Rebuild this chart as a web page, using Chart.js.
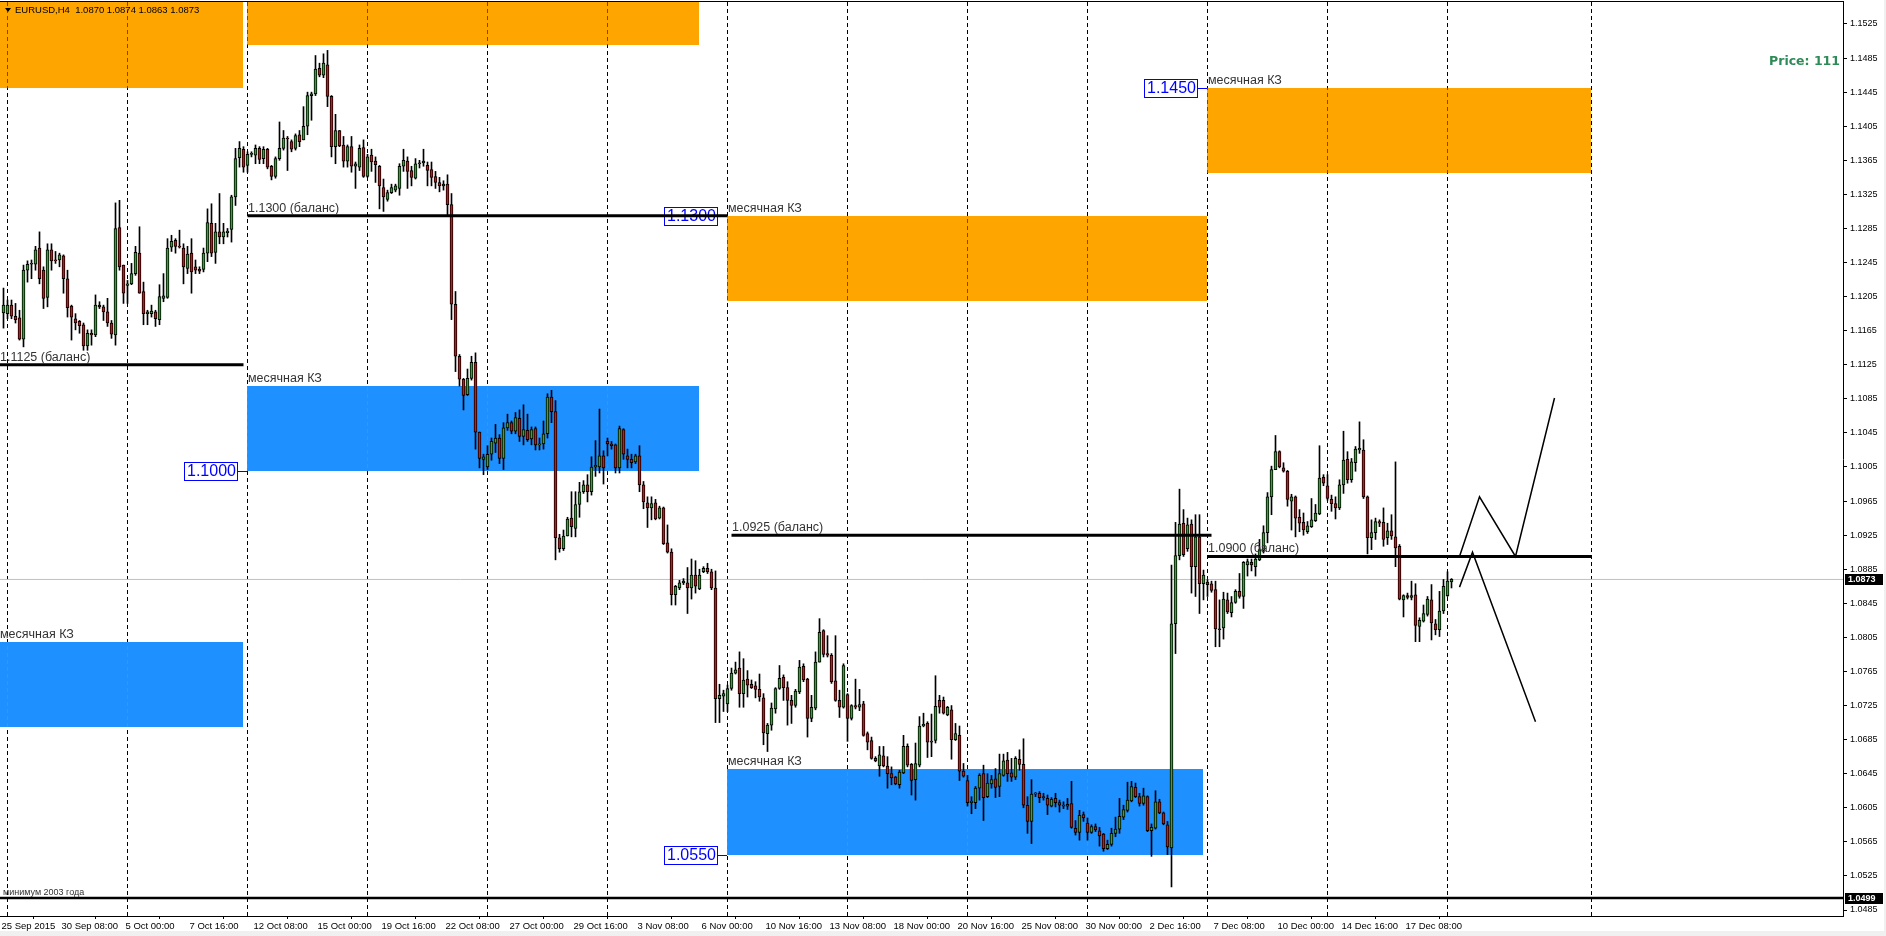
<!DOCTYPE html>
<html>
<head>
<meta charset="utf-8">
<title>EURUSD,H4</title>
<script src="https://cdn.jsdelivr.net/npm/chart.js@4.4.0/dist/chart.umd.min.js"></script>
<style>
  html, body { margin: 0; padding: 0; background: #fff; }
  #wrap { width: 1886px; height: 936px; }
</style>
</head>
<body>
<div id="wrap"><canvas id="chart" width="1886" height="936"></canvas></div>
<script>
// EURUSD H4, 25 Sep 2015 20:00 .. 21 Dec 2015 04:00 (bar 0 .. 362)
const opens = [
  1.1186,1.1185,1.1195,1.1182,1.1180,1.1155,1.1236,1.1243,1.1243,1.1262,
  1.1236,1.1204,1.1260,1.1248,1.1248,1.1253,1.1226,1.1194,1.1179,1.1176,
  1.1172,1.1147,1.1162,1.1160,1.1195,1.1193,1.1187,1.1174,1.1160,1.1286,
  1.1242,1.1218,1.1220,1.1232,1.1256,1.1211,1.1185,1.1185,1.1187,1.1178,
  1.1203,1.1204,1.1263,1.1271,1.1264,1.1262,1.1238,1.1256,1.1240,1.1237,
  1.1237,1.1256,1.1291,1.1257,1.1281,1.1275,1.1280,1.1284,1.1322,1.1368,
  1.1378,1.1359,1.1372,1.1371,1.1379,1.1367,1.1378,1.1358,1.1346,1.1367,
  1.1379,1.1391,1.1387,1.1379,1.1395,1.1389,1.1405,1.1441,1.1443,1.1473,
  1.1465,1.1477,1.1440,1.1381,1.1400,1.1383,1.1364,1.1381,1.1358,1.1357,
  1.1380,1.1346,1.1371,1.1364,1.1358,1.1333,1.1319,1.1327,1.1330,1.1332,
  1.1358,1.1364,1.1353,1.1344,1.1361,1.1362,1.1359,1.1354,1.1346,1.1339,
  1.1335,1.1337,1.1313,1.1196,1.1135,1.1108,1.1090,1.1109,1.1128,1.1046,
  1.1014,1.1005,1.1020,1.1033,1.1039,1.1015,1.1051,1.1057,1.1047,1.1062,
  1.1041,1.1048,1.1038,1.1050,1.1031,1.1032,1.1044,1.1087,1.1070,1.0922,
  1.0909,1.0924,1.0945,1.0933,1.0961,1.0976,1.0984,1.0976,1.1005,1.1005,
  1.1018,1.1035,1.1032,1.1031,1.1004,1.1049,1.1018,1.1014,1.1011,1.1018,
  1.0984,1.0963,1.0957,1.0963,1.0945,1.0957,1.0916,1.0905,1.0855,1.0863,
  1.0869,1.0869,1.0863,1.0878,1.0862,1.0882,1.0886,1.0882,1.0863,1.0733,
  1.0736,1.0727,1.0745,1.0763,1.0769,1.0739,1.0756,1.0750,1.0748,1.0744,
  1.0734,1.0692,1.0702,1.0721,1.0745,1.0758,1.0746,1.0731,1.0725,1.0741,
  1.0771,1.0756,1.0710,1.0722,1.0776,1.0813,1.0786,1.0784,1.0754,1.0731,
  1.0723,1.0738,1.0710,1.0725,1.0723,1.0727,1.0692,1.0684,1.0663,1.0654,
  1.0666,1.0654,1.0645,1.0641,1.0632,1.0646,1.0677,1.0656,1.0638,1.0655,
  1.0701,1.0704,1.0683,1.0684,1.0731,1.0731,1.0714,1.0720,1.0685,1.0690,
  1.0648,1.0637,1.0611,1.0611,1.0628,1.0645,1.0618,1.0633,1.0639,1.0630,
  1.0643,1.0661,1.0646,1.0641,1.0662,1.0656,1.0608,1.0589,1.0621,1.0622,
  1.0618,1.0616,1.0607,1.0616,1.0611,1.0608,1.0607,1.0610,1.0581,1.0576,
  1.0597,1.0587,1.0576,1.0583,1.0578,1.0574,1.0557,1.0562,1.0575,1.0580,
  1.0594,1.0602,1.0613,1.0629,1.0618,1.0610,1.0618,1.0578,1.0581,1.0612,
  1.0599,1.0585,1.0558,1.0821,1.0901,1.0939,1.0909,1.0938,1.0888,1.0923,
  1.0868,1.0870,1.0868,1.0861,1.0815,1.0816,1.0849,1.0834,1.0846,1.0859,
  1.0853,1.0890,1.0893,1.0888,1.0896,1.0907,1.0928,1.0970,1.1002,1.1023,
  1.1004,1.1000,1.0965,1.0970,1.0946,1.0940,1.0929,1.0935,1.0942,1.0950,
  1.0993,1.0983,1.0967,1.0962,1.0957,1.0984,1.1014,1.0990,1.1010,1.1025,
  1.1025,1.0970,1.0922,1.0928,1.0941,1.0940,1.0922,1.0930,1.0923,1.0912,
  1.0849,1.0854,1.0852,1.0855,1.0818,1.0824,1.0832,1.0849,1.0821,1.0814,
  1.0836,1.0854,1.0870
];
const highs = [
  1.1215,1.1201,1.1201,1.1197,1.1189,1.1242,1.1247,1.1248,1.1264,1.1281,
  1.1240,1.1267,1.1267,1.1258,1.1256,1.1254,1.1236,1.1195,1.1185,1.1177,
  1.1174,1.1166,1.1166,1.1207,1.1199,1.1195,1.1203,1.1177,1.1315,1.1318,
  1.1242,1.1224,1.1244,1.1264,1.1287,1.1222,1.1189,1.1195,1.1189,1.1219,
  1.1232,1.1273,1.1277,1.1273,1.1283,1.1267,1.1264,1.1273,1.1248,1.1240,
  1.1262,1.1308,1.1314,1.1291,1.1326,1.1291,1.1285,1.1324,1.1379,1.1387,
  1.1381,1.1375,1.1375,1.1383,1.1381,1.1381,1.1379,1.1359,1.1369,1.1410,
  1.1400,1.1393,1.1389,1.1396,1.1400,1.1428,1.1445,1.1445,1.1488,1.1479,
  1.1490,1.1494,1.1441,1.1419,1.1400,1.1393,1.1383,1.1393,1.1363,1.1383,
  1.1389,1.1372,1.1378,1.1369,1.1359,1.1343,1.1330,1.1337,1.1337,1.1361,
  1.1378,1.1369,1.1358,1.1367,1.1365,1.1378,1.1363,1.1363,1.1352,1.1345,
  1.1341,1.1348,1.1326,1.1211,1.1137,1.1109,1.1120,1.1135,1.1139,1.1046,
  1.1020,1.1030,1.1039,1.1055,1.1043,1.1057,1.1067,1.1059,1.1069,1.1072,
  1.1078,1.1067,1.1052,1.1052,1.1039,1.1059,1.1091,1.1095,1.1083,1.0926,
  1.0931,1.0946,1.0976,1.0976,1.0987,1.0989,1.0996,1.1017,1.1036,1.1073,
  1.1024,1.1039,1.1035,1.1032,1.1053,1.1050,1.1026,1.1020,1.1020,1.1030,
  1.0988,1.0970,1.0970,1.0967,1.0959,1.0958,1.0937,1.0909,1.0866,1.0872,
  1.0874,1.0887,1.0897,1.0895,1.0885,1.0888,1.0892,1.0885,1.0883,1.0750,
  1.0743,1.0749,1.0769,1.0776,1.0788,1.0780,1.0766,1.0755,1.0753,1.0762,
  1.0739,1.0704,1.0728,1.0746,1.0772,1.0761,1.0753,1.0737,1.0744,1.0778,
  1.0774,1.0757,1.0737,1.0788,1.0827,1.0814,1.0807,1.0786,1.0807,1.0743,
  1.0774,1.0739,1.0726,1.0756,1.0744,1.0730,1.0694,1.0688,1.0665,1.0677,
  1.0677,1.0665,1.0653,1.0642,1.0649,1.0690,1.0680,1.0657,1.0681,1.0712,
  1.0716,1.0706,1.0715,1.0760,1.0737,1.0735,1.0724,1.0725,1.0704,1.0701,
  1.0657,1.0643,1.0618,1.0630,1.0645,1.0655,1.0645,1.0643,1.0651,1.0668,
  1.0668,1.0670,1.0663,1.0665,1.0673,1.0686,1.0618,1.0638,1.0623,1.0624,
  1.0622,1.0620,1.0617,1.0622,1.0614,1.0612,1.0616,1.0636,1.0590,1.0602,
  1.0600,1.0593,1.0585,1.0586,1.0582,1.0575,1.0567,1.0581,1.0594,1.0616,
  1.0608,1.0635,1.0636,1.0634,1.0622,1.0628,1.0619,1.0586,1.0625,1.0615,
  1.0600,1.0589,1.0890,1.0940,1.0979,1.0955,1.0945,1.0943,1.0949,1.0949,
  1.0884,1.0873,1.0871,1.0871,1.0849,1.0858,1.0857,1.0853,1.0861,1.0880,
  1.0894,1.0897,1.0897,1.0903,1.0920,1.0936,1.0975,1.1006,1.1042,1.1024,
  1.1010,1.1001,1.0973,1.0971,1.0955,1.0951,1.0941,1.0968,1.0961,1.1030,
  1.0996,1.0996,1.0972,1.0970,1.0990,1.1047,1.1023,1.1015,1.1029,1.1058,
  1.1037,1.0971,1.0943,1.0945,1.0943,1.0957,1.0939,1.0949,1.1011,1.0914,
  1.0855,1.0857,1.0871,1.0868,1.0828,1.0843,1.0853,1.0867,1.0826,1.0859,
  1.0873,1.0882,1.0874
];
const lows = [
  1.1168,1.1179,1.1179,1.1174,1.1154,1.1146,1.1222,1.1226,1.1236,1.1220,
  1.1191,1.1193,1.1236,1.1244,1.1240,1.1209,1.1181,1.1154,1.1166,1.1162,
  1.1142,1.1142,1.1148,1.1158,1.1191,1.1177,1.1170,1.1156,1.1148,1.1236,
  1.1197,1.1197,1.1219,1.1230,1.1209,1.1172,1.1172,1.1181,1.1170,1.1172,
  1.1199,1.1203,1.1258,1.1256,1.1262,1.1220,1.1232,1.1209,1.1232,1.1232,
  1.1234,1.1246,1.1252,1.1244,1.1267,1.1267,1.1275,1.1269,1.1312,1.1357,
  1.1351,1.1351,1.1369,1.1361,1.1361,1.1361,1.1355,1.1342,1.1344,1.1365,
  1.1377,1.1353,1.1375,1.1377,1.1381,1.1389,1.1395,1.1412,1.1441,1.1463,
  1.1462,1.1428,1.1369,1.1361,1.1381,1.1357,1.1357,1.1351,1.1332,1.1353,
  1.1345,1.1345,1.1352,1.1339,1.1308,1.1305,1.1317,1.1326,1.1328,1.1324,
  1.1352,1.1332,1.1335,1.1343,1.1356,1.1358,1.1335,1.1335,1.1332,1.1328,
  1.1330,1.1300,1.1178,1.1117,1.1100,1.1072,1.1089,1.1107,1.1026,1.1004,
  1.0996,1.1002,1.1013,1.1022,1.1009,1.1002,1.1048,1.1044,1.1044,1.1035,
  1.1031,1.1035,1.1031,1.1025,1.1025,1.1026,1.1039,1.1057,1.0896,1.0905,
  1.0907,1.0924,1.0923,1.0923,1.0946,1.0974,1.0964,1.0972,1.0994,1.0998,
  1.0985,1.1018,1.1026,1.0998,1.0998,1.1014,1.1004,1.1004,1.1009,1.0976,
  1.0956,1.0934,1.0943,1.0943,1.0944,1.0914,1.0904,1.0843,1.0843,1.0861,
  1.0867,1.0833,1.0850,1.0857,1.0861,1.0881,1.0880,1.0861,1.0705,1.0705,
  1.0718,1.0718,1.0743,1.0762,1.0723,1.0723,1.0735,1.0745,1.0734,1.0730,
  1.0679,1.0671,1.0696,1.0716,1.0744,1.0731,1.0702,1.0704,1.0723,1.0739,
  1.0753,1.0688,1.0706,1.0720,1.0776,1.0782,1.0782,1.0751,1.0730,1.0711,
  1.0722,1.0683,1.0708,1.0721,1.0719,1.0689,1.0673,1.0662,1.0659,1.0642,
  1.0653,1.0628,1.0632,1.0632,1.0628,1.0645,1.0653,1.0620,1.0614,1.0653,
  1.0700,1.0664,1.0665,1.0681,1.0716,1.0715,1.0713,1.0662,1.0684,1.0637,
  1.0641,1.0607,1.0598,1.0604,1.0614,1.0590,1.0617,1.0628,1.0617,1.0618,
  1.0642,1.0636,1.0636,1.0638,1.0649,1.0605,1.0575,1.0563,1.0618,1.0611,
  1.0614,1.0597,1.0606,1.0606,1.0600,1.0604,1.0603,1.0581,1.0573,1.0567,
  1.0589,1.0567,1.0575,1.0577,1.0560,1.0554,1.0556,1.0560,1.0571,1.0575,
  1.0591,1.0600,1.0612,1.0617,1.0607,1.0608,1.0577,1.0548,1.0580,1.0598,
  1.0585,1.0550,1.0512,1.0786,1.0896,1.0900,1.0906,1.0857,1.0853,1.0833,
  1.0849,1.0853,1.0858,1.0794,1.0794,1.0803,1.0833,1.0829,1.0845,1.0851,
  1.0839,1.0877,1.0883,1.0877,1.0895,1.0904,1.0916,1.0949,1.1002,1.1004,
  1.0999,1.0959,1.0931,1.0923,1.0929,1.0925,1.0927,1.0934,1.0941,1.0949,
  1.0983,1.0966,1.0953,1.0944,1.0955,1.0974,1.0986,1.0987,1.1000,1.1021,
  1.0968,1.0903,1.0908,1.0920,1.0935,1.0912,1.0914,1.0920,1.0888,1.0849,
  1.0829,1.0850,1.0849,1.0800,1.0800,1.0823,1.0830,1.0802,1.0808,1.0806,
  1.0833,1.0853,1.0863
];
const closes = [
  1.1195,1.1195,1.1182,1.1178,1.1155,1.1236,1.1243,1.1244,1.1260,1.1226,
  1.1203,1.1260,1.1247,1.1247,1.1254,1.1226,1.1192,1.1181,1.1174,1.1171,
  1.1147,1.1162,1.1160,1.1195,1.1193,1.1187,1.1174,1.1161,1.1285,1.1240,
  1.1209,1.1220,1.1232,1.1257,1.1209,1.1185,1.1187,1.1188,1.1179,1.1205,
  1.1206,1.1262,1.1270,1.1264,1.1263,1.1240,1.1255,1.1234,1.1236,1.1235,
  1.1256,1.1292,1.1256,1.1281,1.1275,1.1281,1.1282,1.1322,1.1367,1.1379,
  1.1357,1.1372,1.1373,1.1379,1.1366,1.1378,1.1357,1.1346,1.1367,1.1379,
  1.1391,1.1390,1.1378,1.1394,1.1387,1.1405,1.1441,1.1443,1.1472,1.1465,
  1.1479,1.1440,1.1381,1.1400,1.1382,1.1364,1.1381,1.1358,1.1361,1.1379,
  1.1346,1.1369,1.1363,1.1360,1.1335,1.1322,1.1327,1.1333,1.1335,1.1358,
  1.1365,1.1352,1.1345,1.1361,1.1362,1.1364,1.1353,1.1345,1.1339,1.1335,
  1.1337,1.1313,1.1196,1.1135,1.1108,1.1089,1.1109,1.1128,1.1046,1.1015,
  1.1017,1.1020,1.1035,1.1039,1.1015,1.1051,1.1057,1.1047,1.1063,1.1041,
  1.1049,1.1037,1.1049,1.1031,1.1032,1.1044,1.1087,1.1070,1.0922,1.0909,
  1.0924,1.0944,1.0935,1.0961,1.0976,1.0984,1.0976,1.1005,1.1007,1.1018,
  1.1004,1.1032,1.1030,1.1004,1.1050,1.1020,1.1014,1.1010,1.1018,1.0984,
  1.0964,1.0957,1.0962,1.0944,1.0957,1.0915,1.0905,1.0855,1.0865,1.0869,
  1.0871,1.0863,1.0878,1.0865,1.0878,1.0886,1.0882,1.0863,1.0733,1.0737,
  1.0739,1.0745,1.0763,1.0767,1.0739,1.0755,1.0749,1.0746,1.0744,1.0735,
  1.0693,1.0702,1.0722,1.0745,1.0757,1.0746,1.0731,1.0725,1.0742,1.0770,
  1.0755,1.0710,1.0723,1.0776,1.0811,1.0785,1.0784,1.0753,1.0731,1.0723,
  1.0772,1.0710,1.0725,1.0723,1.0726,1.0690,1.0682,1.0663,1.0660,1.0667,
  1.0654,1.0645,1.0640,1.0633,1.0647,1.0677,1.0655,1.0637,1.0657,1.0701,
  1.0703,1.0682,1.0682,1.0724,1.0723,1.0716,1.0723,1.0685,1.0692,1.0648,
  1.0642,1.0611,1.0613,1.0628,1.0643,1.0617,1.0634,1.0638,1.0629,1.0645,
  1.0660,1.0645,1.0641,1.0663,1.0656,1.0608,1.0589,1.0621,1.0622,1.0617,
  1.0617,1.0608,1.0615,1.0611,1.0608,1.0607,1.0609,1.0582,1.0576,1.0596,
  1.0593,1.0576,1.0583,1.0579,1.0572,1.0557,1.0562,1.0575,1.0580,1.0595,
  1.0603,1.0614,1.0630,1.0618,1.0610,1.0619,1.0578,1.0582,1.0612,1.0599,
  1.0586,1.0559,1.0821,1.0901,1.0938,1.0902,1.0937,1.0888,1.0923,1.0868,
  1.0878,1.0867,1.0860,1.0815,1.0814,1.0850,1.0835,1.0846,1.0859,1.0853,
  1.0893,1.0894,1.0890,1.0897,1.0908,1.0928,1.0970,1.1002,1.1023,1.1005,
  1.1000,1.0967,1.0970,1.0945,1.0939,1.0931,1.0936,1.0943,1.0951,1.0992,
  1.0986,1.0968,1.0962,1.0957,1.0984,1.1013,1.0990,1.1011,1.1026,1.1027,
  1.0970,1.0922,1.0928,1.0941,1.0939,1.0920,1.0930,1.0924,1.0910,1.0850,
  1.0854,1.0852,1.0854,1.0819,1.0825,1.0833,1.0850,1.0822,1.0814,1.0836,
  1.0865,1.0871,1.0873
];

// time axis: bar number and its label
const timeTickIdx = [0,15,31,47,63,79,95,111,127,143,159,175,191,207,223,239,255,271,287,303,319,335,351];
const timeTickLabels = ['25 Sep 2015','30 Sep 08:00','5 Oct 00:00','7 Oct 16:00','12 Oct 08:00','15 Oct 00:00',
  '19 Oct 16:00','22 Oct 08:00','27 Oct 00:00','29 Oct 16:00','3 Nov 08:00','6 Nov 00:00','10 Nov 16:00',
  '13 Nov 08:00','18 Nov 00:00','20 Nov 16:00','25 Nov 08:00','30 Nov 00:00','2 Dec 16:00','7 Dec 08:00',
  '10 Dec 00:00','14 Dec 16:00','17 Dec 08:00'];
const priceTicks = [1.1525,1.1485,1.1445,1.1405,1.1365,1.1325,1.1285,1.1245,1.1205,1.1165,1.1125,1.1085,1.1045,
  1.1005,1.0965,1.0925,1.0885,1.0845,1.0805,1.0765,1.0725,1.0685,1.0645,1.0605,1.0565,1.0525,1.0485];
// monday 00:00 bars (period separators)
const weekStarts = [1,31,61,91,121,151,181,211,241,271,301,331,361,397];

// monthly zones "месячная КЗ"
const zoneFrom = [-1, -1, 61, 61, 181, 181, 301];
const zoneTo   = [60, 60, 174, 174, 301, 300, 397];
const zoneHigh = [1.1600, 1.0800, 1.1600, 1.1100, 1.1300, 1.0650, 1.1450];
const zoneLow  = [1.1450, 1.0700, 1.1500, 1.1000, 1.1200, 1.0550, 1.1350];
const zoneSide = ['sell', 'buy', 'sell', 'buy', 'sell', 'buy', 'sell'];

// balance levels
const levelPrice = [1.1125, 1.1300, 1.0925, 1.0900];
const levelFrom  = [-1, 61, 182, 301];
const levelTo    = [60, 181, 302, 397];

// price tags hung on zone edges
const tagPrice = [1.1000, 1.1300, 1.0550, 1.1450];
const tagAt    = [61, 181, 181, 301];

// hand drawn scenarios
const upPathX   = [364, 369, 378, 387.75];
const upPathY   = [1.0900, 1.0970, 1.0900, 1.1086];
const downPathX = [364, 367.25, 383];
const downPathY = [1.0864, 1.0905, 1.0706];

const min2003 = 1.0499;
const lastPrice = closes[closes.length - 1];

const ORANGE = '#ffa500', BLUE = '#1e90ff', BULL = '#2ea82e', BEAR = '#d41414';
const TEXT = '#333333';
const FONT = '"Liberation Sans", Arial, sans-serif';

const bars = opens.map((o, i) => i);

const datasets = [
  {
    type: 'bar', label: 'body', order: 0, grouped: false,
    data: bars.map(i => ({ x: i, y: [opens[i], closes[i]] })),
    backgroundColor: bars.map(i => closes[i] >= opens[i] ? BULL : BEAR),
    borderColor: '#000', borderWidth: 1, borderSkipped: false, barThickness: 3, minBarLength: 1
  },
  {
    type: 'bar', label: 'wick', order: 1, grouped: false,
    data: bars.map(i => ({ x: i, y: [lows[i], highs[i]] })),
    backgroundColor: '#000', borderWidth: 0, barThickness: 1
  },
  {
    type: 'line', label: 'bid', order: 2,
    data: [{ x: -1, y: lastPrice }, { x: 470, y: lastPrice }],
    borderColor: '#c0c0c0', borderWidth: 1, pointRadius: 0
  },
  {
    type: 'line', label: 'min 2003', order: -1,
    data: [{ x: -1, y: min2003 }, { x: 470, y: min2003 }],
    borderColor: '#000', borderWidth: 2.5, pointRadius: 0
  },
  {
    type: 'line', label: 'up', order: -1,
    data: upPathX.map((x, k) => ({ x: x, y: upPathY[k] })),
    borderColor: '#000', borderWidth: 1.5, pointRadius: 0, tension: 0
  },
  {
    type: 'line', label: 'down', order: -1,
    data: downPathX.map((x, k) => ({ x: x, y: downPathY[k] })),
    borderColor: '#000', borderWidth: 1.5, pointRadius: 0, tension: 0
  }
];
levelPrice.forEach((p, k) => {
  datasets.push({
    type: 'line', label: 'level ' + k, order: -1,
    data: [{ x: levelFrom[k], y: p }, { x: levelTo[k], y: p }],
    borderColor: '#000', borderWidth: 3, pointRadius: 0
  });
});

const drawings = {
  id: 'drawings',
  beforeDraw(chart) {
    const c = chart.ctx;
    c.save();
    c.fillStyle = '#fff';
    c.fillRect(0, 0, chart.width, chart.height);
    c.fillStyle = '#f0f0f0';
    c.fillRect(0, 931, chart.width, 5);
    c.fillRect(1884, 0, 2, chart.height);
    c.restore();
  },
  beforeDatasetsDraw(chart) {
    const c = chart.ctx, xs = chart.scales.x, ys = chart.scales.y, a = chart.chartArea;
    c.save();
    c.beginPath();
    c.rect(a.left, a.top, a.right - a.left, a.bottom - a.top);
    c.clip();

    zoneFrom.forEach((f, k) => {
      const x0 = Math.floor(xs.getPixelForValue(f));
      const x1 = Math.floor(xs.getPixelForValue(zoneTo[k]));
      const y0 = Math.round(ys.getPixelForValue(zoneHigh[k]));
      const y1 = Math.round(ys.getPixelForValue(zoneLow[k]));
      c.fillStyle = zoneSide[k] === 'sell' ? ORANGE : BLUE;
      c.fillRect(x0, y0, x1 - x0, y1 - y0);
    });

    // separators invert what is under them, like the terminal does
    c.globalCompositeOperation = 'difference';
    c.strokeStyle = '#fff';
    c.lineWidth = 1;
    c.setLineDash([4, 3]);
    weekStarts.forEach(i => {
      const x = Math.floor(xs.getPixelForValue(i)) + 0.5;
      c.beginPath();
      c.moveTo(x, a.top);
      c.lineTo(x, a.bottom);
      c.stroke();
    });
    c.globalCompositeOperation = 'source-over';
    c.setLineDash([]);

    c.font = '16px ' + FONT;
    c.textBaseline = 'middle';
    tagPrice.forEach((p, k) => {
      const edge = Math.floor(xs.getPixelForValue(tagAt[k]));
      const y = Math.round(ys.getPixelForValue(p));
      const txt = p.toFixed(4);
      const w = Math.ceil(c.measureText(txt).width) + 5, h = 19;
      const bx = edge - 9 - w;
      c.fillStyle = '#fff';
      c.fillRect(bx, y - 9, w, h);
      c.strokeStyle = '#0000ff';
      c.lineWidth = 1;
      c.strokeRect(bx + 0.5, y - 8.5, w - 1, h - 1);
      c.beginPath();
      c.moveTo(bx + w, y + 0.5);
      c.lineTo(edge, y + 0.5);
      c.stroke();
      c.fillStyle = '#0000ff';
      c.fillText(txt, bx + 3, y + 1);
    });
    c.restore();
  },
  afterDatasetsDraw(chart) {
    const c = chart.ctx, xs = chart.scales.x, ys = chart.scales.y, a = chart.chartArea;
    c.save();
    c.beginPath();
    c.rect(a.left, a.top, a.right - a.left, a.bottom - a.top);
    c.clip();
    c.fillStyle = TEXT;
    c.textBaseline = 'alphabetic';
    c.font = '12.5px ' + FONT;
    zoneFrom.forEach((f, k) => {
      const x0 = Math.floor(xs.getPixelForValue(f));
      const y0 = Math.round(ys.getPixelForValue(zoneHigh[k]));
      c.fillText('месячная КЗ', x0 + 1, y0 - 4);
    });
    levelPrice.forEach((p, k) => {
      const x0 = Math.floor(xs.getPixelForValue(levelFrom[k]));
      const y = Math.round(ys.getPixelForValue(p));
      c.fillText(p.toFixed(4) + ' (баланс)', x0 + 1, y - 4);
    });
    c.font = '9px ' + FONT;
    c.fillText('минимум 2003 года', 3, Math.round(ys.getPixelForValue(min2003)) - 3);

    c.fillStyle = '#2e8b57';
    c.font = 'bold 12.5px "DejaVu Sans", sans-serif';
    c.textAlign = 'right';
    c.fillText('Price: 111', a.right - 3, 65);
    c.restore();
  },
  afterDraw(chart) {
    const c = chart.ctx, ys = chart.scales.y, a = chart.chartArea;
    c.save();
    // frame top
    c.fillStyle = '#000';
    c.fillRect(0, 1, a.right + 1, 1);

    // symbol header
    c.beginPath();
    c.moveTo(5, 8); c.lineTo(11, 8); c.lineTo(8, 12); c.closePath();
    c.fill();
    const n = closes.length - 1;
    c.font = '9.5px ' + FONT;
    c.textBaseline = 'alphabetic';
    c.fillText('EURUSD,H4  ' + [opens[n], highs[n], lows[n], closes[n]].map(v => v.toFixed(4)).join(' '), 15, 13);

    // price boxes on the axis
    [lastPrice, min2003].forEach(p => {
      const y = Math.round(ys.getPixelForValue(p));
      c.fillStyle = '#000';
      c.fillRect(a.right + 2, y - 5, 38, 11);
      c.fillStyle = '#fff';
      c.font = 'bold 9px ' + FONT;
      c.textBaseline = 'middle';
      c.fillText(p.toFixed(4), a.right + 5, y + 0.5);
    });
    c.restore();
  }
};

new Chart(document.getElementById('chart'), {
  type: 'bar',
  data: { datasets: datasets },
  plugins: [drawings],
  options: {
    responsive: false,
    animation: false,
    devicePixelRatio: 1,
    layout: { padding: { top: 2, left: 0, right: 0, bottom: 0 } },
    plugins: { legend: { display: false }, tooltip: { enabled: false } },
    events: [],
    scales: {
      x: {
        type: 'linear', min: -0.875, max: 459.875, offset: false,
        grid: { display: true, drawOnChartArea: false, drawTicks: true, tickLength: 3, color: '#000' },
        border: { display: true, color: '#000', width: 1 },
        afterBuildTicks: s => { s.ticks = timeTickIdx.map(v => ({ value: v })); },
        afterFit: s => { s.height = 20; s.paddingLeft = 0; s.paddingRight = 0; },
        ticks: {
          autoSkip: false, maxRotation: 0, minRotation: 0, align: 'start', padding: 2, labelOffset: -2,
          color: '#000', font: { family: FONT, size: 9.5 },
          callback: (v, i) => timeTickLabels[i]
        }
      },
      y: {
        type: 'linear', position: 'right', min: 1.047796, max: 1.155082,
        grid: { display: true, drawOnChartArea: false, drawTicks: true, tickLength: 4, color: '#000' },
        border: { display: true, color: '#000', width: 1 },
        afterBuildTicks: s => { s.ticks = priceTicks.map(v => ({ value: v })); },
        afterFit: s => { s.width = 43; s.paddingTop = 0; s.paddingBottom = 0; },
        ticks: {
          autoSkip: false, padding: 3, color: '#000', font: { family: FONT, size: 9 },
          callback: v => v.toFixed(4)
        }
      }
    }
  }
});
</script>
</body>
</html>
